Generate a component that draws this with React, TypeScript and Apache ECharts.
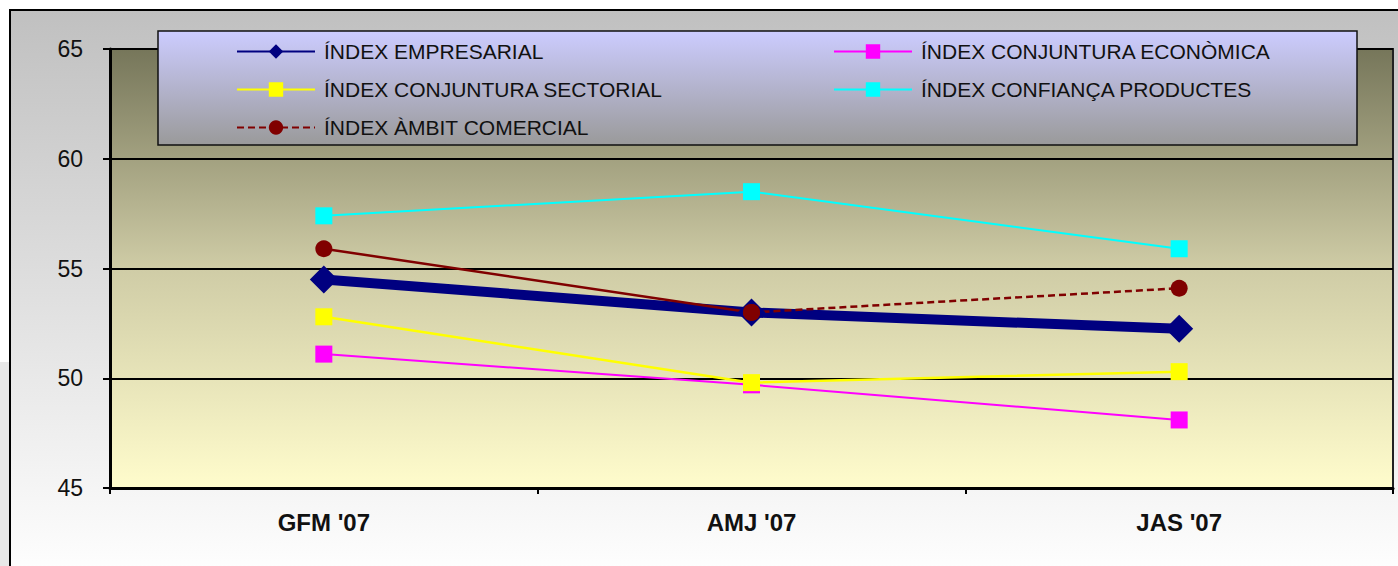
import React, { useEffect, useRef } from "react";
import * as echarts from "echarts";

const categories = ["GFM '07", "AMJ '07", "JAS '07"];
const empresarial = [54.5, 53.0, 52.25];
const conjunturaEconomica = [51.1, 49.7, 48.1];
const conjunturaSectorial = [52.8, 49.8, 50.3];
const confiancaProductes = [57.4, 58.5, 55.9];
const ambitComercial = [55.9, 53.0, 54.1];
const yMin = 45;
const yMax = 65;
const yInterval = 5;
const names = [
  "ÍNDEX EMPRESARIAL",
  "ÍNDEX CONJUNTURA ECONÒMICA",
  "ÍNDEX CONJUNTURA SECTORIAL",
  "ÍNDEX CONFIANÇA PRODUCTES",
  "ÍNDEX ÀMBIT COMERCIAL",
];

const FONT = "'Liberation Sans', Arial, sans-serif";

export default function App() {
  const ref = useRef<HTMLDivElement>(null);
  useEffect(() => {
    if (!ref.current) return;
    const chart = echarts.init(ref.current, undefined, { renderer: "svg" });

    // solid first segment, dashed second segment for ÀMBIT COMERCIAL
    const comercialSolid = ambitComercial.map((v, i) => (i <= 1 ? v : null));
    const comercialDashed = ambitComercial.map((v, i) => (i >= 1 ? v : null));

    const legendPos = [
      { left: 236, top: 41 },
      { left: 833, top: 41 },
      { left: 236, top: 79 },
      { left: 833, top: 79 },
      { left: 236, top: 117 },
    ];

    const legends = names.map((n, i) => ({
      data: [n],
      left: legendPos[i].left,
      top: legendPos[i].top,
      padding: 0,
      itemWidth: 78,
      itemHeight: 18,
      itemGap: 0,
      z: 20,
      lineStyle: { width: 2 },
      textStyle: { fontSize: 21, fontFamily: FONT, color: "#111", padding: [0, 0, 0, 4] },
    }));

    const option: any = {
      animation: false,
      backgroundColor: "#ffffff",
      graphic: [
        {
          type: "rect",
          z: -10,
          shape: { x: 10, y: 10, width: 1400, height: 570 },
          style: {
            fill: new echarts.graphic.LinearGradient(0, 0, 0, 1, [
              { offset: 0, color: "#c0c0c0" },
              { offset: 1, color: "#ffffff" },
            ]),
            stroke: "#000",
            lineWidth: 2,
          },
        },
        {
          type: "rect",
          z: -10,
          shape: { x: 0, y: 362, width: 9, height: 210 },
          style: { fill: "#e8e8e8" },
        },
        {
          type: "rect",
          z: 10,
          shape: { x: 158, y: 31, width: 1199, height: 114 },
          style: {
            fill: new echarts.graphic.LinearGradient(0, 0, 0, 1, [
              { offset: 0, color: "#ccccff" },
              { offset: 1, color: "#9a9a9a" },
            ]),
            stroke: "#111",
            lineWidth: 1.5,
          },
        },
      ],
      legend: legends,
      grid: {
        left: 110,
        top: 49,
        right: 5,
        bottom: 78,
        show: true,
        backgroundColor: new echarts.graphic.LinearGradient(0, 0, 0, 1, [
          { offset: 0, color: "#76765a" },
          { offset: 0.5, color: "#cfcca6" },
          { offset: 1, color: "#fffccc" },
        ]),
        borderColor: "#222",
        borderWidth: 2,
      },
      xAxis: {
        type: "category",
        data: categories,
        boundaryGap: true,
        axisLine: { lineStyle: { color: "#000", width: 3 } },
        axisTick: { show: true, length: 6, lineStyle: { color: "#000", width: 2 } },
        axisLabel: {
          fontSize: 24,
          fontWeight: "bold",
          fontFamily: FONT,
          color: "#111",
          margin: 22,
        },
      },
      yAxis: {
        type: "value",
        min: yMin,
        max: yMax,
        interval: yInterval,
        axisLine: { show: true, lineStyle: { color: "#000", width: 3 } },
        axisTick: { show: true, length: 7, lineStyle: { color: "#000", width: 2 } },
        axisLabel: { fontSize: 23, fontFamily: FONT, color: "#111", margin: 27 },
        splitLine: { show: true, lineStyle: { color: "#000", width: 2 } },
      },
      series: [
        {
          name: names[0],
          type: "line",
          data: empresarial,
          symbol: "diamond",
          symbolSize: 28,
          lineStyle: { color: "#000080", width: 10 },
          itemStyle: { color: "#000080" },
        },
        {
          name: names[1],
          type: "line",
          data: conjunturaEconomica,
          symbol: "rect",
          symbolSize: 17,
          lineStyle: { color: "#ff00ff", width: 2 },
          itemStyle: { color: "#ff00ff" },
        },
        {
          name: names[2],
          type: "line",
          data: conjunturaSectorial,
          symbol: "rect",
          symbolSize: 17,
          lineStyle: { color: "#ffff00", width: 2.5 },
          itemStyle: { color: "#ffff00" },
        },
        {
          name: names[3],
          type: "line",
          data: confiancaProductes,
          symbol: "rect",
          symbolSize: 17,
          lineStyle: { color: "#00ffff", width: 2 },
          itemStyle: { color: "#00ffff" },
        },
        {
          name: "comercial-solid",
          type: "line",
          data: comercialSolid,
          symbol: "circle",
          symbolSize: 17,
          lineStyle: { color: "#800000", width: 2.5 },
          itemStyle: { color: "#800000" },
        },
        {
          name: names[4],
          type: "line",
          data: comercialDashed,
          symbol: "circle",
          symbolSize: 17,
          lineStyle: { color: "#800000", width: 2.5, type: [7, 4] },
          itemStyle: { color: "#800000" },
        },
      ],
    };
    chart.setOption(option);
    return () => chart.dispose();
  }, []);

  return (
    <div
      ref={ref}
      style={{ position: "fixed", left: 0, top: 0, width: 1398, height: 566 }}
    />
  );
}
